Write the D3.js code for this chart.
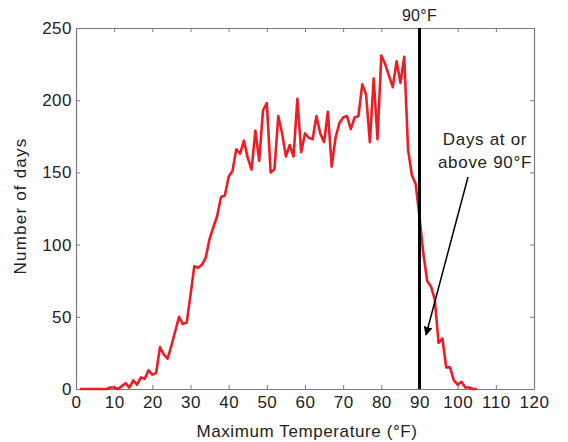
<!DOCTYPE html>
<html>
<head>
<meta charset="utf-8">
<script src="https://cdn.jsdelivr.net/npm/d3@7"></script>
<style>
  html, body { margin: 0; padding: 0; background: #fff; }
  svg { display: block; font-family: "Liberation Sans", Arial, sans-serif; }
</style>
</head>
<body>
<svg id="chart" width="568" height="442"></svg>
<script>
// Daily maximum temperature histogram (count of days per 1°F bin)
const temps = d3.range(1, 106); // 1..105 °F
const days = [
  0, 0, 0, 0, 0, 0, 0, 0, 1, 1,          // 1-10
  0, 2, 4, 1, 6, 3, 8, 7, 13, 10,        // 11-20
  11, 29, 24, 21, 30, 40, 50, 45, 46, 65, // 21-30
  85, 84, 86, 91, 104, 112, 120, 133, 134, 147, // 31-40
  151, 166, 163, 172, 160, 152, 179, 158, 193, 198, // 41-50
  150, 152, 189, 177, 161, 169, 161, 201, 164, 177, // 51-60
  174, 173, 189, 177, 171, 192, 154, 174, 184, 188, // 61-70
  189, 180, 188, 189, 211, 204, 171, 215, 173, 231, // 71-80
  225, 217, 209, 227, 212, 230, 166, 148, 142, 119, // 81-90
  94, 75, 71, 62, 32, 35, 15, 15, 6, 3,  // 91-100
  5, 1, 1, 0, 0                          // 101-105
];
const xTicks = d3.range(0, 121, 10);
const yTicks = d3.range(0, 251, 50);
const threshold = 90;
const noteLines = ["Days at or", "above 90°F"];

const margin = { left: 76, right: 34, top: 28, bottom: 53 };
const W = 568, H = 442;
const svg = d3.select('#chart');

const x = d3.scaleLinear().domain([0, 120]).range([margin.left, W - margin.right]);
const y = d3.scaleLinear().domain([0, 250]).range([H - margin.bottom, margin.top]);

const frameColor = '#7a7a7a';
const textColor = '#222';

// ─── Axes (MATLAB-like boxed frame, inward ticks) ───────────────────────────
const gx = svg.append('g')
  .attr('transform', `translate(0,${y(0)})`)
  .call(d3.axisBottom(x).tickValues(xTicks).tickSizeInner(-4).tickSizeOuter(0).tickPadding(7));
const gxTop = svg.append('g')
  .attr('transform', `translate(0,${y(250)})`)
  .call(d3.axisTop(x).tickValues(xTicks).tickSizeInner(-4).tickSizeOuter(0).tickFormat(''));
const gy = svg.append('g')
  .attr('transform', `translate(${x(0)},0)`)
  .call(d3.axisLeft(y).tickValues(yTicks).tickSizeInner(-4).tickSizeOuter(0).tickPadding(4));
const gyRight = svg.append('g')
  .attr('transform', `translate(${x(120)},0)`)
  .call(d3.axisRight(y).tickValues(yTicks).tickSizeInner(-4).tickSizeOuter(0).tickFormat(''));

[gx, gxTop, gy, gyRight].forEach(g => {
  g.select('.domain').attr('stroke', frameColor).attr('stroke-width', 1.2);
  g.selectAll('.tick line').attr('stroke', frameColor).attr('stroke-width', 1);
  g.selectAll('.tick text')
    .attr('fill', textColor)
    .style('font-size', '17px')
    .style('letter-spacing', '0.5px')
    .style('font-family', '"Liberation Sans", Arial, sans-serif');
});

// ─── Data line ──────────────────────────────────────────────────────────────
const line = d3.line()
  .x((d, i) => x(temps[i]))
  .y(d => y(d));

svg.append('path')
  .datum(days)
  .attr('d', line)
  .attr('fill', 'none')
  .attr('stroke', '#ee1c25')
  .attr('stroke-width', 2.6)
  .attr('stroke-linejoin', 'round');

// ─── 90°F threshold ─────────────────────────────────────────────────────────
svg.append('line')
  .attr('x1', x(threshold)).attr('x2', x(threshold))
  .attr('y1', y(250)).attr('y2', y(0))
  .attr('stroke', '#000')
  .attr('stroke-width', 3);

svg.append('text')
  .attr('x', x(threshold)).attr('y', 21)
  .attr('text-anchor', 'middle')
  .attr('fill', textColor)
  .style('font-size', '16px')
  .style('letter-spacing', '0.3px')
  .text('90°F');

// ─── Annotation ─────────────────────────────────────────────────────────────
svg.append('defs').append('marker')
  .attr('id', 'arrowhead')
  .attr('viewBox', '0 0 10 10')
  .attr('refX', 9).attr('refY', 5)
  .attr('markerWidth', 6).attr('markerHeight', 6)
  .attr('markerUnits', 'strokeWidth')
  .attr('orient', 'auto')
  .append('path')
  .attr('d', 'M0,0 L10,5 L0,10 z')
  .attr('fill', '#000');

svg.append('line')
  .attr('x1', 468).attr('y1', 177)
  .attr('x2', 426).attr('y2', 335)
  .attr('stroke', '#000')
  .attr('stroke-width', 1.5)
  .attr('marker-end', 'url(#arrowhead)');

svg.append('text')
  .attr('text-anchor', 'middle')
  .attr('fill', textColor)
  .style('font-size', '17px')
  .style('letter-spacing', '0.7px')
  .selectAll('tspan')
  .data(noteLines)
  .join('tspan')
    .attr('x', 485)
    .attr('y', (d, i) => 145 + i * 23)
    .text(d => d);

// ─── Axis titles ────────────────────────────────────────────────────────────
svg.append('text')
  .attr('x', (x(0) + x(120)) / 2 + 2).attr('y', 437)
  .attr('text-anchor', 'middle')
  .attr('fill', textColor)
  .style('font-size', '17px')
  .style('letter-spacing', '0.6px')
  .text('Maximum Temperature (°F)');

svg.append('text')
  .attr('transform', `translate(26,206) rotate(-90)`)
  .attr('text-anchor', 'middle')
  .attr('fill', textColor)
  .style('font-size', '17px')
  .style('letter-spacing', '1.2px')
  .text('Number of days');
</script>
</body>
</html>
